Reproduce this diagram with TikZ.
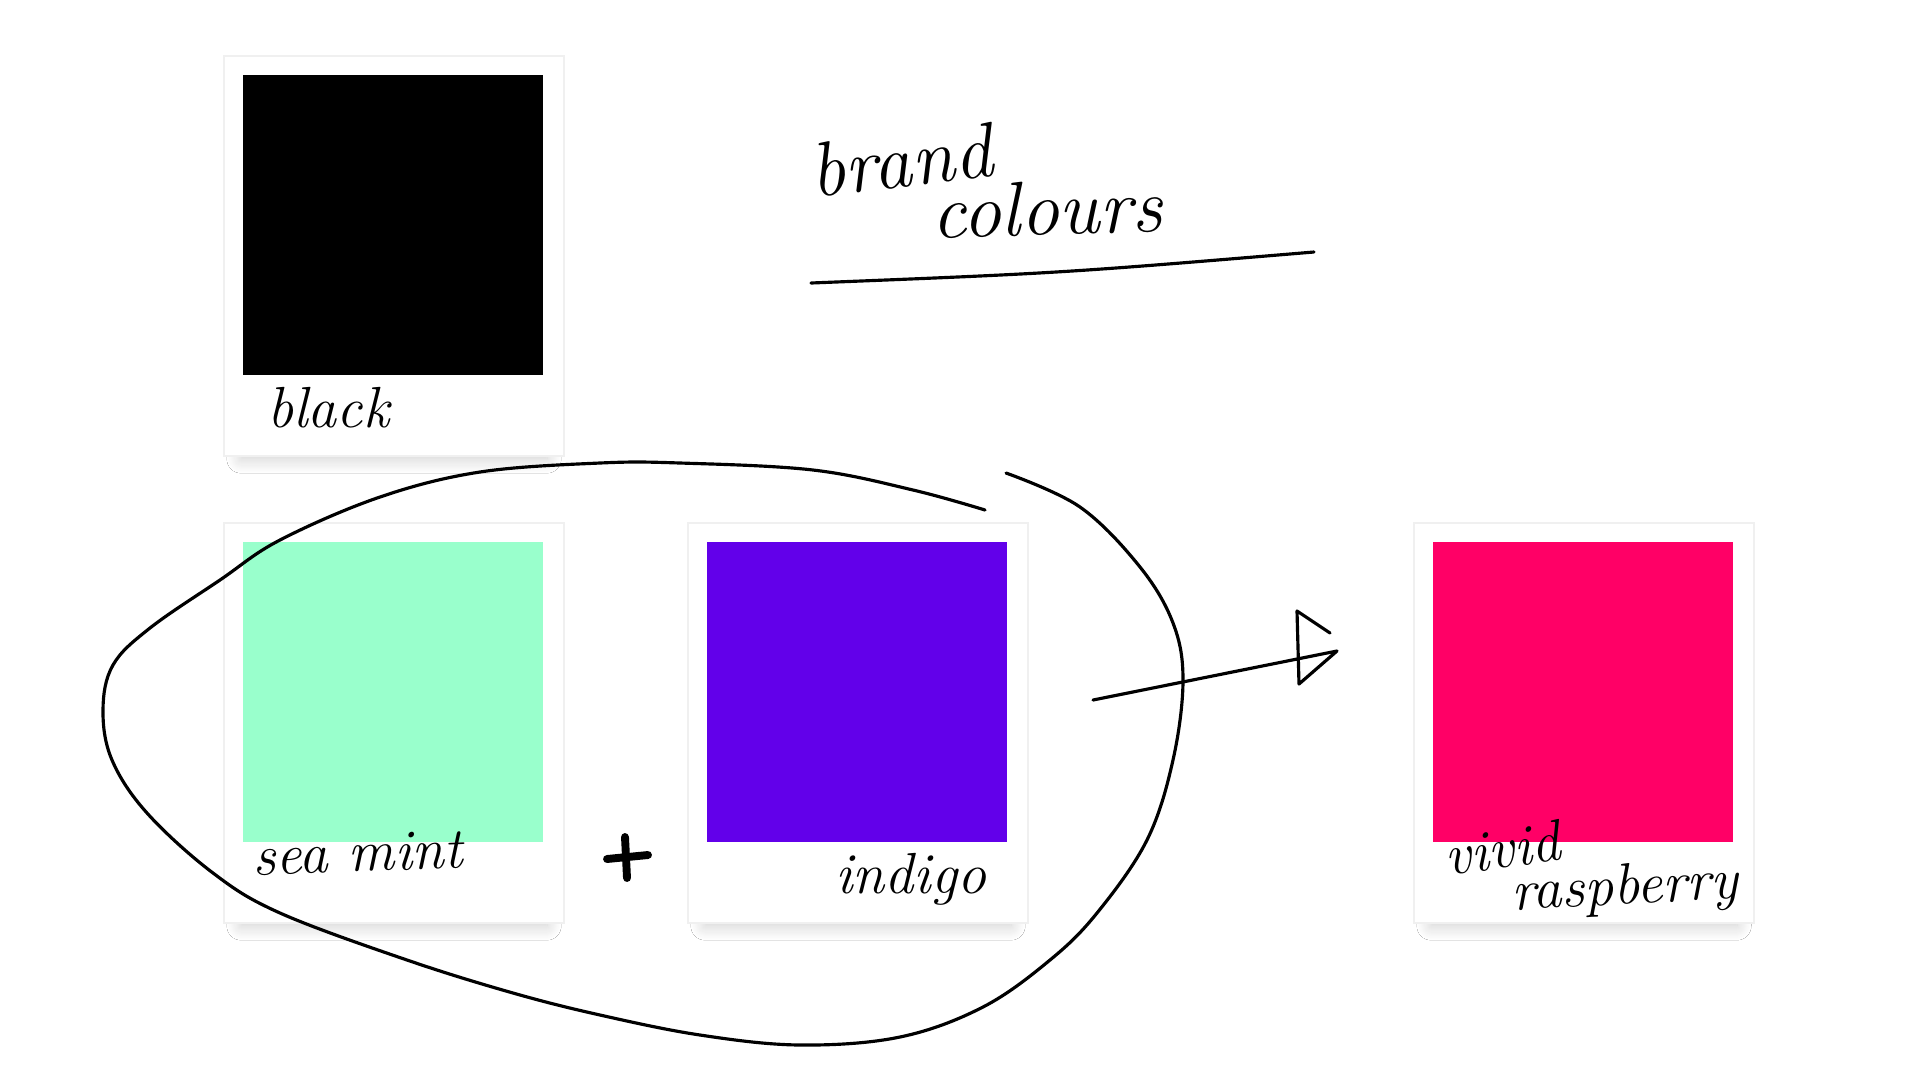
\documentclass[tikz,border=0pt]{standalone}
\usepackage{xcolor}
\usepackage{tikz}
\usetikzlibrary{shadows.blur,positioning}
\definecolor{seamint}{HTML}{99FFCC}
\definecolor{indigo}{HTML}{6200EA}
\definecolor{raspberry}{HTML}{FF0066}
\tikzset{%
         card/.style = { fill=white, draw=black!6, line width=1.2pt,
                         anchor=north west, inner sep=0pt,
                         minimum width=6.8cm, minimum height=8cm,
                         blur shadow={shadow xshift=0pt, shadow yshift=-14.5pt,
                                      shadow scale=0.9, shadow blur steps=14,
                                      shadow blur radius=9pt, shadow opacity=20} },
       swatch/.style = { anchor=north west, inner sep=0pt, minimum size=6cm },
  swatchlabel/.style = { anchor=base west, inner sep=0pt,
                         font=\fontsize{33}{36}\selectfont\itshape },
        title/.style = { swatchlabel, font=\fontsize{44}{48}\selectfont\itshape },
       sketch/.style = { line width=1.8pt, line cap=round, line join=round },
     plusline/.style = { line width=4.5pt, line cap=round }
}
\begin{document}
\begin{tikzpicture}[x=0.02cm,y=-0.02cm]
\useasboundingbox[fill=white] (0,0) rectangle (1920,1080);
% cards
\node[card] (blackcard)  at (223,55)   {};
\node[card] (mintcard)   at (223,522)  {};
\node[card] (indigocard) at (687,522)  {};
\node[card] (raspcard)   at (1413,522) {};
% swatches
\node[swatch,fill=black]     (blackswatch)  at (243,75)   {};
\node[swatch,fill=seamint]   (mintswatch)   at (243,542)  {};
\node[swatch,fill=indigo]    (indigoswatch) at (707,542)  {};
\node[swatch,fill=raspberry] (raspswatch)   at (1433,542) {};
% names
\node[swatchlabel]          (blacktext)  at (267,427)  {black};
\node[swatchlabel,rotate=2] (minttext)   at (253,875)  {sea mint};
\node[swatchlabel]          (indigotext) at (835,893)  {indigo};
\node[swatchlabel,rotate=8] (vividtext)  at (1447,876) {vivid};
\node[swatchlabel,rotate=3] (rasptext)   at (1512,910) {raspberry};
% heading
\node[title,rotate=7] (brandtext)  at (813,198) {brand};
\node[title,rotate=2] (colourtext) at (932,239) {colours};
\coordinate (ulineleft)  at (811,283);
\coordinate (ulineright) at (1314,252);
\draw[sketch] (ulineleft) .. controls (1062,273) .. (ulineright);
% plus
\coordinate (plustop)    at (625,837);
\coordinate (plusbottom) at (627,878);
\coordinate (plusleft)   at (607,859);
\coordinate (plusright)  at (648,855);
\draw[plusline] (plustop) -- (plusbottom) (plusleft) -- (plusright);
% loop round the two swatches
\draw[sketch] plot[smooth,tension=0.6] coordinates {(985,510) (913,490) (813,470)
  (680,463) (600,463) (480,472) (380,497) (280,540) (220,580) (150,628) (113,665)
  (103,710) (112,760) (147,813) (213,873) (280,913) (407,960) (513,993) (600,1015)
  (700,1035) (800,1045) (900,1037) (983,1007) (1050,960) (1097,913) (1147,840)
  (1173,760) (1183,680) (1173,623) (1140,567) (1080,507) (1006,473)};
% arrow
\coordinate (arrowtail) at (1093,700);
\coordinate (arrowtip)  at (1337,651);
\draw[sketch] (arrowtail) -- (arrowtip) -- (1299,684) -- (1297,611) -- (1330,633);
\end{tikzpicture}
\end{document}
